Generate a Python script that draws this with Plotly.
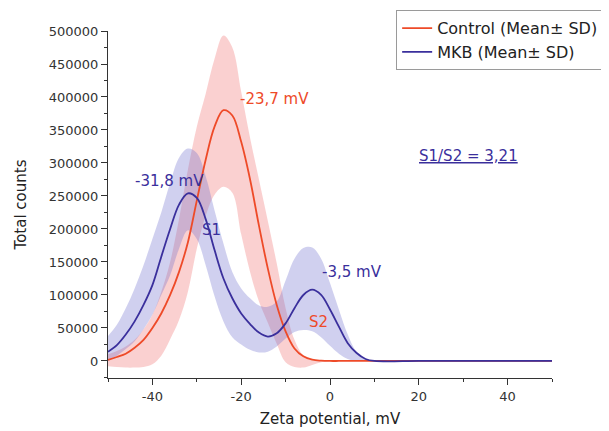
import plotly.graph_objects as go

# Zeta potential grid (mV)
zeta = [-50, -48, -46, -44, -42, -40, -38, -36, -34, -32, -30, -28, -26, -24, -22, -20,
        -18, -16, -14, -12, -10, -8, -6, -4, -2, 0, 2, 4, 6, 8, 10, 20, 30, 40, 50]

# Control (Mean ± SD)
control_mean = [1500, 6000, 11000, 20000, 32000, 50000, 72000, 100000, 135000, 180000, 243000,
                305000, 355000, 380000, 372000, 332000, 275000, 205000, 140000, 85000, 45000,
                19000, 7000, 2000, 500, 0, 0, 0, 0, 0, 0, 0, 0, 0, 0]
control_upper = [10000, 15000, 22000, 32000, 48000, 70000, 105000, 150000, 215000, 290000, 355000,
                 405000, 458000, 493000, 475000, 408000, 338000, 275000, 212000, 148000, 80000,
                 32000, 8000, 1000, 0, 0, 0, 0, 0, 0, 0, 0, 0, 0, 0]
control_lower = [-8000, -9000, -10000, -10000, -9000, -5000, 8000, 33000, 62000, 105000, 170000,
                 220000, 252000, 264000, 255000, 192000, 135000, 90000, 58000, 26000, -2000,
                 -9000, -10000, -6000, -2000, 0, 0, 0, 0, 0, 0, 0, 0, 0, 0]

# MKB (Mean ± SD)
mkb_mean = [14000, 24000, 40000, 60000, 85000, 115000, 158000, 200000, 237000, 254000, 247000,
            215000, 168000, 125000, 95000, 72000, 56000, 43000, 37000, 42000, 57000, 80000,
            100000, 108000, 100000, 78000, 52000, 27000, 12000, 3000, 0, 0, 0, 0, 0]
mkb_upper = [38000, 55000, 80000, 110000, 145000, 185000, 225000, 270000, 308000, 322000, 315000,
             280000, 228000, 178000, 135000, 110000, 95000, 84000, 82000, 90000, 122000, 155000,
             171000, 172000, 155000, 118000, 78000, 40000, 13000, 2000, 0, 0, 0, 0, 0]
mkb_lower = [0, 8000, 18000, 30000, 48000, 70000, 100000, 130000, 170000, 198000, 185000, 145000,
             98000, 60000, 36000, 25000, 17000, 13000, 14000, 22000, 34000, 44000, 47000, 45000,
             36000, 23000, 11000, 3000, 0, 0, 0, 0, 0, 0, 0]

x_ticks = [-40, -20, 0, 20, 40]
y_ticks = [0, 50000, 100000, 150000, 200000, 250000, 300000, 350000, 400000, 450000, 500000]

RED = "#ee4a28"
BLUE = "#3a2f9c"
FONT = "DejaVu Sans"
SMOOTH = 1.0

fig = go.Figure()

def band(upper, lower, color):
    fig.add_trace(go.Scatter(x=zeta, y=upper, mode="lines", line=dict(width=0, shape="spline", smoothing=SMOOTH),
                             showlegend=False, hoverinfo="skip"))
    fig.add_trace(go.Scatter(x=zeta, y=lower, mode="lines", line=dict(width=0, shape="spline", smoothing=SMOOTH),
                             fill="tonexty", fillcolor=color, showlegend=False, hoverinfo="skip"))

band(control_upper, control_lower, "rgba(242,120,120,0.35)")
band(mkb_upper, mkb_lower, "rgba(110,110,205,0.32)")

fig.add_trace(go.Scatter(x=zeta, y=control_mean, mode="lines", name="Control (Mean\u00b1 SD)",
                         line=dict(color=RED, width=1.8, shape="spline", smoothing=SMOOTH)))
fig.add_trace(go.Scatter(x=zeta, y=mkb_mean, mode="lines", name="MKB (Mean\u00b1 SD)",
                         line=dict(color=BLUE, width=1.8, shape="spline", smoothing=SMOOTH)))

def note(x, y, text, color, size=15):
    fig.add_annotation(x=x, y=y, xref="x", yref="y", text=text, showarrow=False,
                       font=dict(family=FONT, size=size, color=color))

note(-12.4, 397000, "-23,7 mV", RED)
note(-36.2, 272000, "-31,8 mV", BLUE)
note(-26.7, 198000, "S1", BLUE)
note(5.0, 135000, "-3,5 mV", BLUE)
note(-2.7, 59000, "S2", RED)
note(31.2, 310000, "<u>S1/S2 = 3,21</u>", BLUE)

axis_common = dict(showline=True, linecolor="#333333", linewidth=1.2, ticks="outside",
                   ticklen=6, tickwidth=1.2, tickcolor="#333333", showgrid=False, zeroline=False,
                   mirror=False, tickfont=dict(family=FONT, size=13, color="#333333"))

fig.update_xaxes(range=[-50, 50], tickmode="array", tickvals=x_ticks,
                 ticktext=[str(v) for v in x_ticks],
                 minor=dict(dtick=10, tick0=0, ticks="outside", ticklen=3, tickcolor="#333333"),
                 title=dict(text="Zeta potential, mV", font=dict(family=FONT, size=15, color="#222222"),
                            standoff=10),
                 **axis_common)
fig.update_yaxes(range=[-25800, 500000], tickmode="array", tickvals=y_ticks,
                 ticktext=[str(v) for v in y_ticks],
                 minor=dict(dtick=25000, tick0=0, ticks="outside", ticklen=3, tickcolor="#333333"),
                 title=dict(text="Total counts", font=dict(family=FONT, size=15, color="#222222"),
                            standoff=18),
                 **axis_common)

fig.update_layout(
    width=601, height=423,
    margin=dict(l=100, r=57, t=23, b=53, autoexpand=False),
    plot_bgcolor="white", paper_bgcolor="white",
    legend=dict(x=0.649, y=1.06, xanchor="left", yanchor="top", traceorder="normal",
                bordercolor="#9a9a9a", borderwidth=1, bgcolor="white",
                font=dict(family=FONT, size=16, color="#222222"),
                tracegroupgap=0, itemwidth=30),
)

fig.write_html("out.html")
